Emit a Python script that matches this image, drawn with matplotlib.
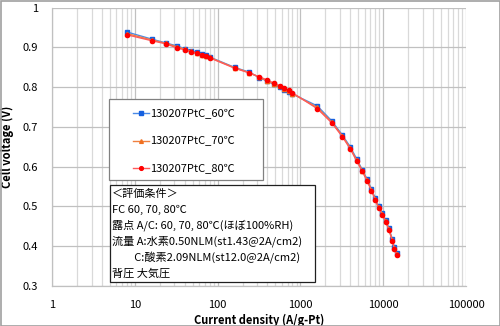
import matplotlib
matplotlib.use('Agg')
import matplotlib.pyplot as plt
from matplotlib.patches import Rectangle
from matplotlib.ticker import LogLocator, FixedLocator, NullFormatter

plt.rcParams['font.family'] = ['Noto Sans CJK JP', 'DejaVu Sans']

# current density steps (A/g-Pt)
current = [8, 16, 24, 32, 40, 48, 56, 64, 72, 80,
           160, 240, 320, 400, 480, 560, 640, 720, 800,
           1600, 2400, 3200, 4000, 4800, 5600, 6400, 7200, 8000, 8800,
           9800, 10700, 11700, 12900, 13600, 14500]

# cell voltage (V) for each cell temperature
v_60 = [0.939, 0.921, 0.911, 0.904, 0.897, 0.892, 0.888, 0.884, 0.880, 0.876,
        0.850, 0.838, 0.824, 0.815, 0.807, 0.801, 0.794, 0.789, 0.783,
        0.753, 0.715, 0.680, 0.650, 0.619, 0.592, 0.568, 0.544, 0.521, 0.500,
        0.483, 0.465, 0.446, 0.417, 0.397, 0.382]
v_70 = [0.935, 0.919, 0.910, 0.902, 0.896, 0.890, 0.886, 0.882, 0.879, 0.875,
        0.849, 0.837, 0.825, 0.816, 0.808, 0.802, 0.795, 0.790, 0.784,
        0.749, 0.712, 0.678, 0.647, 0.616, 0.590, 0.566, 0.542, 0.519, 0.498,
        0.481, 0.463, 0.444, 0.415, 0.395, 0.380]
v_80 = [0.932, 0.917, 0.909, 0.899, 0.894, 0.889, 0.885, 0.881, 0.878, 0.874,
        0.848, 0.836, 0.826, 0.818, 0.810, 0.804, 0.797, 0.792, 0.786,
        0.746, 0.710, 0.676, 0.645, 0.614, 0.588, 0.564, 0.540, 0.517, 0.496,
        0.479, 0.461, 0.442, 0.413, 0.393, 0.378]

labels = ['130207PtC_60℃', '130207PtC_70℃', '130207PtC_80℃']

conditions = [
    '＜評価条件＞',
    'FC 60, 70, 80℃',
    '露点 A/C: 60, 70, 80℃(ほぼ100%RH)',
    '流量 A:水素0.50NLM(st1.43@2A/cm2)',
    '　　C:酸素2.09NLM(st12.0@2A/cm2)',
    '背圧 大気圧',
]

x_ticks = [1, 10, 100, 1000, 10000, 100000]
x_tick_labels = ['1', '10', '100', '1000', '10000', '100000']
y_ticks = [0.3, 0.4, 0.5, 0.6, 0.7, 0.8, 0.9, 1.0]
y_tick_labels = ['0.3', '0.4', '0.5', '0.6', '0.7', '0.8', '0.9', '1']

W, H = 500, 326
fig = plt.figure(figsize=(W / 100, H / 100), dpi=100)
ax = fig.add_axes([52 / W, 1 - 286 / H, 414 / W, 278.3 / H])

ax.plot(current, v_60, color='#4a8ae6', lw=1.0, marker='s', ms=3.0,
        mfc='#1560e0', mec='#1560e0', label=labels[0])
ax.plot(current, v_70, color='#f08040', lw=1.0, marker='^', ms=3.0,
        mfc='#f07020', mec='#f07020', label=labels[1])
ax.plot(current, v_80, color='#ff5a5a', lw=1.0, marker='o', ms=3.0,
        mfc='#ff0000', mec='#ff0000', label=labels[2])

ax.set_xscale('log')
ax.set_xlim(1, 100000)
ax.set_ylim(0.3, 1.0)
ax.xaxis.set_major_locator(FixedLocator(x_ticks))
ax.set_xticklabels(x_tick_labels)
ax.xaxis.set_minor_locator(LogLocator(base=10, subs=range(2, 10)))
ax.xaxis.set_minor_formatter(NullFormatter())
ax.set_yticks(y_ticks)
ax.set_yticklabels(y_tick_labels)
ax.tick_params(which='both', length=0, labelsize=8, colors='#000000')
ax.tick_params(axis='x', pad=10)
ax.tick_params(axis='y', pad=10)

ax.grid(which='major', color='#c0c0c0', lw=0.9)
ax.grid(which='minor', axis='x', color='#d9d9d9', lw=0.9)
ax.set_axisbelow(True)
for side in ['top', 'right']:
    ax.spines[side].set_visible(False)
for side in ['left', 'bottom']:
    ax.spines[side].set_color('#c0c0c0')
    ax.spines[side].set_linewidth(0.9)

ax.set_xlabel('Current density (A/g-Pt)', fontsize=8, fontweight='bold', labelpad=3)
ax.set_ylabel('Cell voltage (V)', fontsize=8, fontweight='bold', labelpad=6)

# legend box
ax.add_patch(Rectangle((108.5 / W, 1 - 179.5 / H), 154 / W, 80 / H,
                       transform=fig.transFigure, fc='white', ec='#808080',
                       lw=0.9, zorder=5, clip_on=False))
leg = ax.legend(loc='upper left', bbox_to_anchor=(133 / W, 1 - 109 / H),
                bbox_transform=fig.transFigure, frameon=False, fontsize=8,
                handlelength=1.4, handletextpad=0.1, labelspacing=1.55,
                borderaxespad=0, borderpad=0, markerscale=0.9)
leg.set_zorder(6)

# test conditions box
ax.add_patch(Rectangle((109.5 / W, 1 - 281.5 / H), 205.5 / W, 96.5 / H,
                       transform=fig.transFigure, fc='white', ec='#202020',
                       lw=0.9, zorder=5, clip_on=False))
for i, line in enumerate(conditions):
    ax.text(112 / W, 1 - (193.5 + 16 * i) / H, line, fontsize=8,
            va='center', ha='left', zorder=6, transform=fig.transFigure)

# outer frame
fig.patches.append(Rectangle((0.5 / W, 0.5 / H), 1 - 1 / W, 1 - 1 / H,
                             transform=fig.transFigure, fill=False,
                             ec='#a0a0a0', lw=1.2))

fig.savefig('out.png', dpi=100)
